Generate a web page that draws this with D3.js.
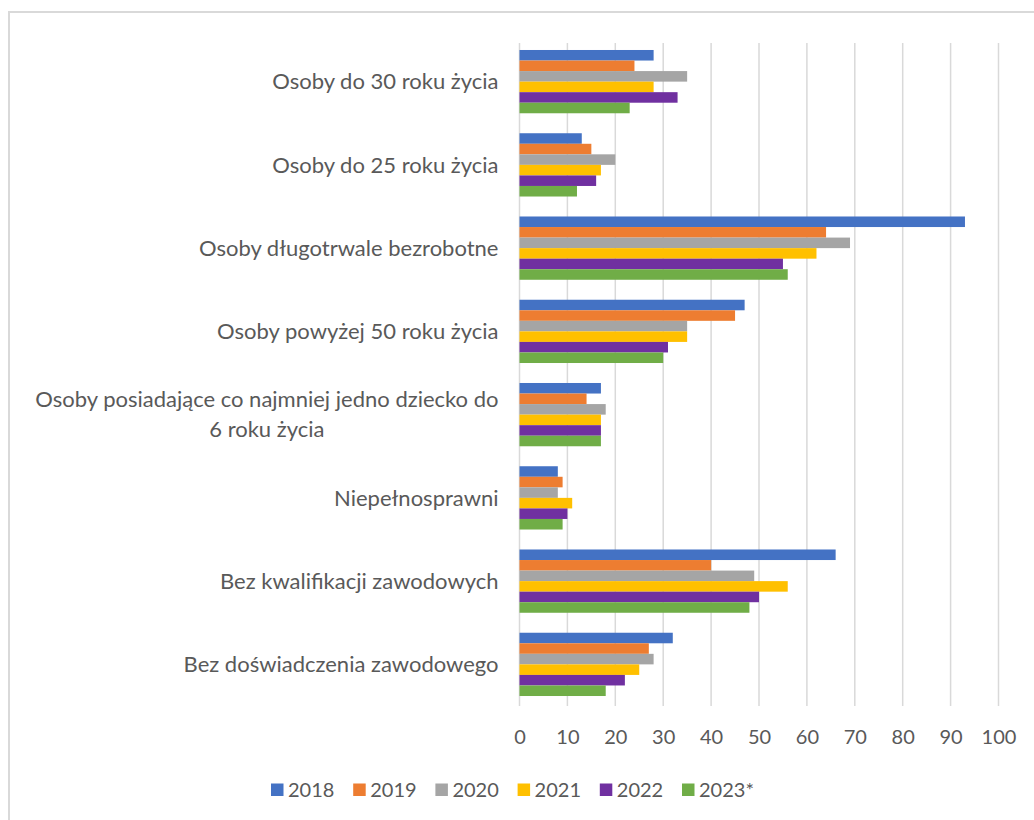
<!DOCTYPE html>
<html>
<head>
<meta charset="utf-8">
<script src="https://cdn.jsdelivr.net/npm/d3@7"></script>
<style>
  body { margin: 0; background: #fff; }
  svg { display: block; font-family: Lato, "Open Sans", sans-serif; }
</style>
</head>
<body>
<div id="chart"></div>
<script>
// categories, top to bottom
var categories = [
  "Osoby do 30 roku życia",
  "Osoby do 25 roku życia",
  "Osoby długotrwale bezrobotne",
  "Osoby powyżej 50 roku życia",
  "Osoby posiadające co najmniej jedno dziecko do 6 roku życia",
  "Niepełnosprawni",
  "Bez kwalifikacji zawodowych",
  "Bez doświadczenia zawodowego"
];

var years = ["2018", "2019", "2020", "2021", "2022", "2023*"];
var colors = ["#4472C4", "#ED7D31", "#A5A5A5", "#FFC000", "#7030A0", "#70AD47"];

// one array per year, same order as categories
var v2018 = [28, 13, 93, 47, 17, 8, 66, 32];
var v2019 = [24, 15, 64, 45, 14, 9, 40, 27];
var v2020 = [35, 20, 69, 35, 18, 8, 49, 28];
var v2021 = [28, 17, 62, 35, 17, 11, 56, 25];
var v2022 = [33, 16, 55, 31, 17, 10, 50, 22];
var v2023 = [23, 12, 56, 30, 17, 9, 48, 18];
var series = [v2018, v2019, v2020, v2021, v2022, v2023];

var xTicks = [0, 10, 20, 30, 40, 50, 60, 70, 80, 90, 100];

var W = 1034, H = 820;
var margin = {top: 40, left: 519.5, right: 35.5, bottom: 114};

var svg = d3.select("#chart").append("svg")
    .attr("width", W)
    .attr("height", H);

// chart frame (only left and top edges visible in the crop)
svg.append("path")
    .attr("d", "M9,820 V12 H1034")
    .attr("fill", "none")
    .attr("stroke", "#d9d9d9")
    .attr("stroke-width", 2);

var x = d3.scaleLinear().domain([0, 100]).range([margin.left, W - margin.right]);
var y = d3.scaleBand().domain(categories)
    .range([margin.top, H - margin.bottom])
    .paddingInner(0.24).paddingOuter(0.12);
var y1 = d3.scaleBand().domain(years).range([0, y.bandwidth()]);

// gridlines
svg.append("g")
    .selectAll("line")
    .data(xTicks)
    .join("line")
    .attr("x1", d => x(d)).attr("x2", d => x(d))
    .attr("y1", margin.top + 3).attr("y2", H - margin.bottom)
    .attr("stroke", "#d9d9d9")
    .attr("stroke-width", 1.5);

// bars
var groups = svg.append("g")
    .selectAll("g")
    .data(categories)
    .join("g")
    .attr("transform", d => "translate(0," + y(d) + ")");

groups.selectAll("rect")
    .data((c, i) => years.map((yr, j) => ({year: yr, value: series[j][i], color: colors[j]})))
    .join("rect")
    .attr("x", x(0))
    .attr("y", d => y1(d.year))
    .attr("width", d => x(d.value) - x(0))
    .attr("height", y1.bandwidth())
    .attr("fill", d => d.color);

// x axis labels
var xAxis = d3.axisBottom(x).tickValues(xTicks).tickSize(0).tickPadding(0);
var gx = svg.append("g")
    .attr("transform", "translate(0," + (H - margin.bottom + 24) + ")")
    .call(xAxis);
gx.select(".domain").remove();
gx.selectAll("text")
    .attr("fill", "#595959")
    .style("font-size", "20px")
    .style("font-family", "Lato, sans-serif");

// category labels (left), wrapped if too wide
var maxLabel = 478;
var yLabels = svg.append("g")
    .selectAll("text")
    .data(categories)
    .join("text")
    .attr("text-anchor", "middle")
    .attr("fill", "#595959")
    .style("font-size", "22px");

yLabels.each(function(d) {
  var t = d3.select(this);
  var words = d.split(" ");
  var lines = [], line = [];
  t.text(d);
  if (this.getComputedTextLength() > maxLabel) {
    words.forEach(function(w) {
      line.push(w);
      t.text(line.join(" "));
      if (t.node().getComputedTextLength() > maxLabel) {
        line.pop();
        lines.push(line.join(" "));
        line = [w];
      }
    });
    lines.push(line.join(" "));
  } else {
    lines = [d];
  }
  t.text(null);
  // widest line is right-aligned at the axis, lines centred on each other
  var tmp = lines.map(function(l) { t.text(l); return t.node().getComputedTextLength(); });
  t.text(null);
  var wmax = d3.max(tmp);
  var cx = margin.left - 21 - wmax / 2;
  var cy = y(d) + y.bandwidth() / 2;
  var lh = 30;
  lines.forEach(function(l, k) {
    t.append("tspan")
      .attr("x", cx)
      .attr("y", cy + (k - (lines.length - 1) / 2) * lh)
      .attr("dy", "0.35em")
      .text(l);
  });
});

// legend
var legend = svg.append("g")
    .selectAll("g")
    .data(years)
    .join("g")
    .attr("transform", (d, i) => "translate(" + (271 + i * 82.2) + ",790)");

legend.append("rect")
    .attr("x", 0).attr("y", -6.5)
    .attr("width", 12.5).attr("height", 12.5)
    .attr("fill", (d, i) => colors[i]);

legend.append("text")
    .attr("x", 17)
    .attr("dy", "0.35em")
    .attr("fill", "#595959")
    .style("font-size", "20px")
    .text(d => d);
</script>
</body>
</html>
